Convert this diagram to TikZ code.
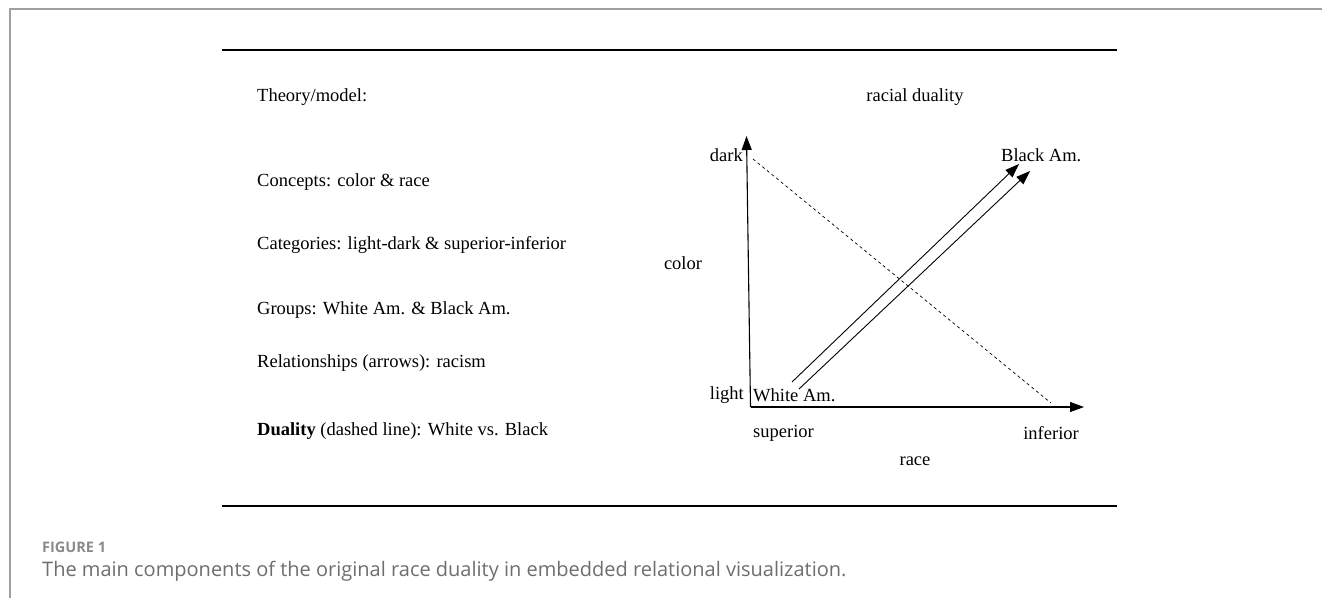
\documentclass[tikz,border=0pt]{standalone}
\usepackage{fontspec}
\setmainfont{Liberation Serif}
\newfontfamily\capfont{Open Sans}
\usetikzlibrary{arrows.meta}
\definecolor{framegray}{HTML}{A0A0A0}
\definecolor{captiongray}{HTML}{6E6E6E}
\definecolor{labelgray}{HTML}{8A8A8A}
\tikzset{
  txt/.style={inner sep=0pt, font=\fontsize{18.5}{20}\selectfont},
  rule/.style={line width=2pt, black},
  axisline/.style={line width=1.1pt, -{Triangle[length=14pt,width=10pt]}},
  relarrow/.style={line width=0.9pt, -{Triangle[length=14pt,width=10pt]}},
  dualline/.style={line width=0.7pt, dash pattern=on 3pt off 3pt},
}
\begin{document}
\begin{tikzpicture}[x=1pt,y=-1pt]
\useasboundingbox (0,0) rectangle (1322,598);
% outer frame: top and left edges
\draw[framegray, line width=1.8pt] (1322,9) -- (10,9) -- (10,598);
% horizontal rules
\draw[rule] (222,49.5) -- (1117,49.5);
\draw[rule] (222,506) -- (1117,506);

% legend column
\node[txt, anchor=west] (theory) at (257,97) {Theory/model:};
\node[txt, anchor=west] (concepts) at (257,182) {Concepts: color \& race};
\node[txt, anchor=west] (categories) at (257,245) {Categories: light-dark \& superior-inferior};
\node[txt, anchor=west] (groups) at (257,310) {Groups: White Am. \& Black Am.};
\node[txt, anchor=west] (relations) at (257,363) {Relationships (arrows): racism};
\node[txt, anchor=west] (duality) at (257,431) {\textbf{Duality} (dashed line): White vs. Black};

% diagram
\node[txt] (title) at (915,97) {racial duality};
\node[txt] (color) at (683,263) {color};
\node[txt] (race) at (915,461) {race};
\node[txt, anchor=east] (dark) at (743,155) {dark};
\node[txt, anchor=east] (light) at (744,395) {light};
\node[txt, anchor=west] (white) at (753,395) {White Am.};
\node[txt, anchor=west] (black) at (1001,155) {Black Am.};
\node[txt, anchor=west] (superior) at (753,433) {superior};
\node[txt, anchor=east] (inferior) at (1079,433) {inferior};

\coordinate (origin) at (750.5,407);
\coordinate (ytip) at (746.5,136);
\coordinate (xtip) at (1084,407);
\draw[axisline] (origin) -- (ytip);
\draw[axisline] (origin) -- (xtip);

% duality line between the dark and inferior corners
\coordinate (dualA) at (753,159);
\coordinate (dualB) at (1051,403);
\draw[dualline] (dualA) -- (dualB);

% racism relationships from White Am. to Black Am.
\coordinate (w1) at (792,382);
\coordinate (b1) at (1019,164);
\coordinate (w2) at (799,389);
\coordinate (b2) at (1030,171);
\draw[relarrow] (w1) -- (b1);
\draw[relarrow] (w2) -- (b2);

% caption
\node[anchor=west, inner sep=0pt, text=labelgray, font=\capfont\bfseries\fontsize{14.5}{16}\selectfont] (figlabel) at (42,547) {FIGURE 1};
\node[anchor=west, inner sep=0pt, text=captiongray, font=\capfont\fontsize{20}{22}\selectfont] (caption) at (42,571) {The main components of the original race duality in embedded relational visualization.};
\end{tikzpicture}
\end{document}
